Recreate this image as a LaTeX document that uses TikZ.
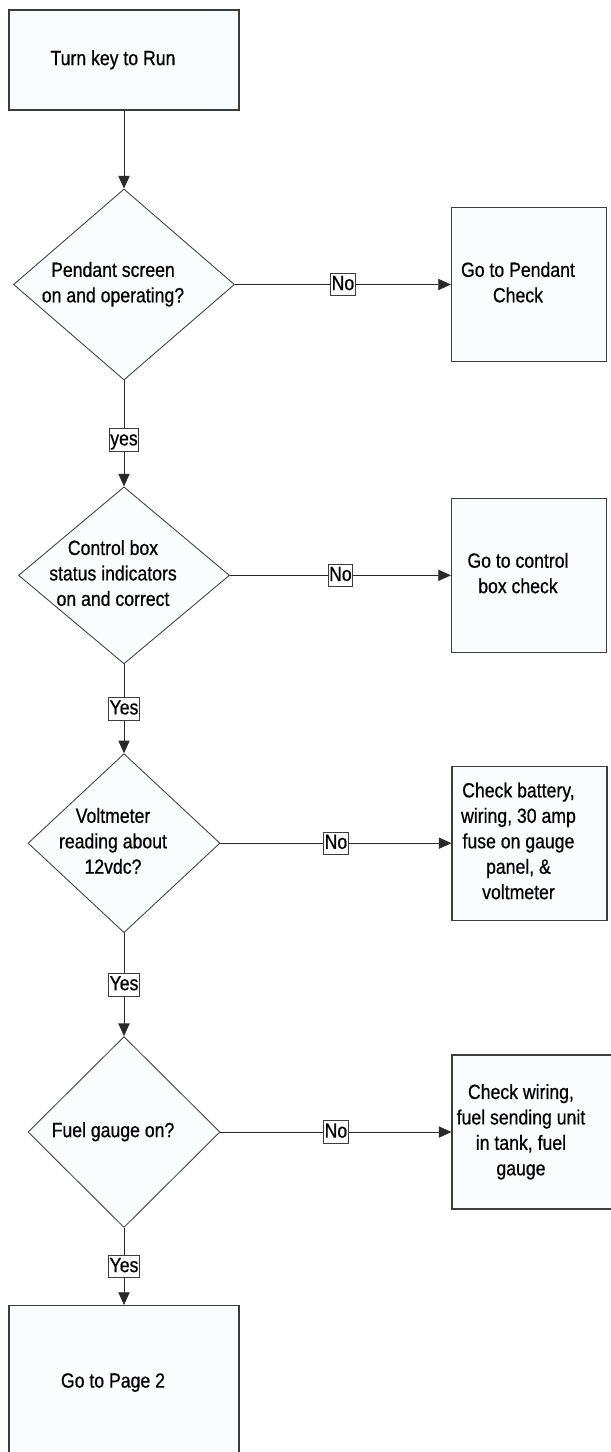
\documentclass[tikz,border=0pt]{standalone}
\usepackage{fontspec}
\newfontfamily\flowsans{Liberation Sans}[FakeStretch=0.86,FakeBold=0.6]
\usepackage{tikz}
\usetikzlibrary{shapes.geometric,arrows.meta,positioning}
\definecolor{border}{HTML}{3C3C3C}
\definecolor{linecol}{HTML}{2A2A2A}
\definecolor{shapefill}{HTML}{FAFCFE}
\newcommand{\boxtext}[1]{\kern-0.55cm\begin{tabular}{@{}c@{}}#1\end{tabular}}

\begin{document}
\begin{tikzpicture}[
    node distance=1.95cm and 5.4cm,
    box/.style={draw=border, fill=shapefill, line width=0.8pt,
                minimum width=5.75cm, minimum height=2.5cm, inner sep=0pt,
                font=\flowsans\fontsize{14.6pt}{18.1pt}\selectfont},
    action/.style={box, minimum width=3.875cm, minimum height=3.85cm},
    decision/.style={draw=border, fill=shapefill, diamond, aspect=1.2,
                     line width=0.6pt, inner sep=0pt,
                     font=\flowsans\fontsize{14.6pt}{18.1pt}\selectfont},
    tag/.style={draw=border, fill=white, text=black, line width=0.5pt,
                inner xsep=0.7pt, inner ysep=1pt, text height=11pt,
                text depth=3pt,
                font=\flowsans\fontsize{14.6pt}{18.1pt}\selectfont},
    arrow/.style={-{Triangle[length=9pt,width=8pt]}, line width=0.6pt,
                  color=linecol},
]
    \clip (0,0) rectangle (15.275,-36.3);

    \node[box] (start) at (3.1,-1.5) {\boxtext{Turn key to Run}};
    \node[decision, below=1.95cm of start, minimum width=5.525cm,
          minimum height=4.775cm] (pendant)
          {\boxtext{Pendant screen\\on and operating?}};
    \node[decision, below=2.65cm of pendant, minimum width=5.275cm,
          minimum height=4.425cm] (status)
          {\boxtext{Control box\\status indicators\\on and correct}};
    \node[decision, below=2.225cm of status, minimum width=4.8cm,
          minimum height=4.475cm] (volts)
          {\boxtext{Voltmeter\\reading about\\12vdc?}};
    \node[decision, below=2.575cm of volts, minimum width=4.8cm,
          minimum height=4.775cm] (fuel) {\boxtext{Fuel gauge on?}};
    \node[box, below=1.925cm of fuel, minimum height=3.85cm] (page2)
          {\boxtext{Go to Page 2}};

    \node[action, right=5.4cm of pendant] (pcheck)
          {\boxtext{Go to Pendant\\Check}};
    \node[action, right=5.525cm of status] (ccheck)
          {\boxtext{Go to control\\box check}};
    \node[action, right=5.775cm of volts] (vcheck)
          {\boxtext{Check battery,\\wiring, 30 amp\\fuse on gauge\\panel, \&\\voltmeter}};
    \node[action, right=5.775cm of fuel, minimum width=4cm] (fcheck)
          {\boxtext{Check wiring,\\fuel sending unit\\in tank, fuel\\gauge}};

    \draw[arrow] (start)   -- (pendant);
    \draw[arrow] (pendant) -- node[tag, pos=0.56] {yes} (status);
    \draw[arrow] (status)  -- node[tag] {Yes} (volts);
    \draw[arrow] (volts)   -- node[tag] {Yes} (fuel);
    \draw[arrow] (fuel)    -- node[tag] {Yes} (page2);
    \draw[arrow] (pendant) -- node[tag] {No} (pcheck);
    \draw[arrow] (status)  -- node[tag] {No} (ccheck);
    \draw[arrow] (volts)   -- node[tag] {No} (vcheck);
    \draw[arrow] (fuel)    -- node[tag] {No} (fcheck);
\end{tikzpicture}
\end{document}
